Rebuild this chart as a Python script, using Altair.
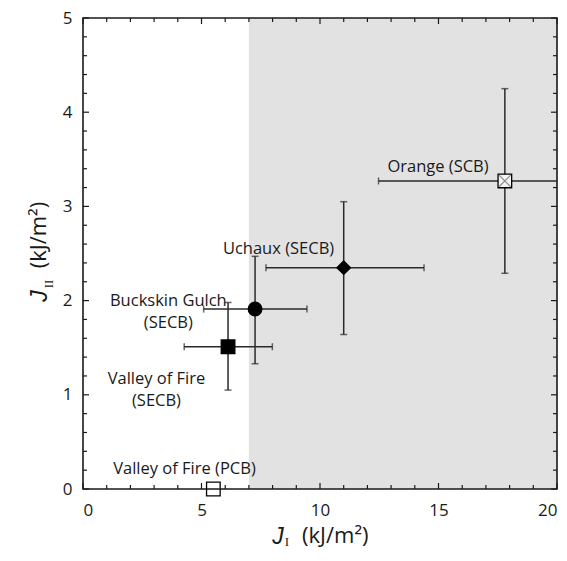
import altair as alt
import pandas as pd

# ---- data ----
sites = ["Valley of Fire (PCB)", "Valley of Fire (SECB)", "Buckskin Gulch (SECB)",
         "Uchaux (SECB)", "Orange (SCB)"]
ji = [5.5, 6.12, 7.26, 11.0, 17.8]
jii = [0.0, 1.51, 1.91, 2.35, 3.27]
ji_lo = [None, 4.27, 5.09, 7.72, 12.47]
ji_hi = [None, 7.99, 9.45, 14.39, 23.0]
jii_lo = [None, 1.05, 1.33, 1.64, 2.29]
jii_hi = [None, 1.98, 2.47, 3.05, 4.25]

label_lines = [["Valley of Fire (PCB)"], ["Valley of Fire", "(SECB)"],
               ["Buckskin Gulch", "(SECB)"], ["Uchaux (SECB)"], ["Orange (SCB)"]]
label_x = [4.28, 3.1, 3.6, 8.25, 14.98]
label_y = [0.21, 1.17, 2.0, 2.55, 3.42]

shaded_from = 7.0
shaded_to = 20.0

x_major = [0, 5, 10, 15, 20]
x_minor = [v for v in range(0, 21) if v % 5 != 0]
y_major = [0, 1, 2, 3, 4, 5]
y_minor = [round(i * 0.2, 1) for i in range(26) if i % 5 != 0]

# ---- layout ----
W, H = 474, 471
TOP = 10
FONT = "Open Sans"
JFONT = "Liberation Sans"
INK = "#1a1a1a"

xscale = alt.Scale(domain=[0, 20], nice=False, zero=False)
yscale = alt.Scale(domain=[0, 5], nice=False, zero=False)
xaxis = alt.Axis(title=None, values=x_major, ticks=False, tickSize=0, domain=False,
                 grid=False, labelPadding=13, labelFontSize=17, labelFont=FONT,
                 labelColor=INK)
yaxis = alt.Axis(title=None, values=y_major, ticks=False, tickSize=0, domain=False,
                 grid=False, labelPadding=11, labelFontSize=17, labelFont=FONT,
                 labelColor=INK)


def X(f):
    return alt.X(f, scale=xscale, axis=xaxis)


def Y(f):
    return alt.Y(f, scale=yscale, axis=yaxis)


pts = pd.DataFrame({"site": sites, "x": ji, "y": jii, "xlo": ji_lo, "xhi": ji_hi,
                    "ylo": jii_lo, "yhi": jii_hi})
errs = pts.dropna()
labels = pd.DataFrame({"x": label_x, "y": label_y, "text": label_lines})

shade = alt.Chart(pd.DataFrame({"x": [shaded_from], "x2": [shaded_to]})).mark_rect(
    color="#e2e2e2").encode(x=X("x:Q"), x2="x2:Q", y=alt.value(0), y2=alt.value(H))

EC = "#2a2a2a"
ebase = alt.Chart(errs)
hbar = ebase.mark_rule(color=EC, strokeWidth=1.5, clip=True).encode(
    x=X("xlo:Q"), x2="xhi:Q", y=Y("y:Q"))
vbar = ebase.mark_rule(color=EC, strokeWidth=1.5, clip=True).encode(
    x=X("x:Q"), y=Y("ylo:Q"), y2="yhi:Q")
cap_l = ebase.mark_tick(orient="vertical", color=EC, thickness=1.5, size=7,
                        clip=True).encode(x=X("xlo:Q"), y=Y("y:Q"))
cap_r = ebase.mark_tick(orient="vertical", color=EC, thickness=1.5, size=7,
                        clip=True).encode(x=X("xhi:Q"), y=Y("y:Q"))
cap_b = ebase.mark_tick(orient="horizontal", color=EC, thickness=1.5, size=7,
                        clip=True).encode(x=X("x:Q"), y=Y("ylo:Q"))
cap_t = ebase.mark_tick(orient="horizontal", color=EC, thickness=1.5, size=7,
                        clip=True).encode(x=X("x:Q"), y=Y("yhi:Q"))

shape_range = ["square", "square", "circle", "diamond", "square"]
fill_range = ["white", "black", "black", "black", "#f4f4f4"]
points = alt.Chart(pts).mark_point(filled=True, size=185, stroke="black",
                                   strokeWidth=1.3, opacity=1).encode(
    x=X("x:Q"), y=Y("y:Q"),
    shape=alt.Shape("site:N", scale=alt.Scale(domain=sites, range=shape_range), legend=None),
    fill=alt.Fill("site:N", scale=alt.Scale(domain=sites, range=fill_range), legend=None),
)
xmark = alt.Chart(pts).transform_filter(alt.datum.site == "Orange (SCB)").mark_point(
    shape="M-0.85,-0.85L0.85,0.85M0.85,-0.85L-0.85,0.85", size=185, filled=False,
    stroke="#8a8a8a", strokeWidth=1.1, opacity=1).encode(x=X("x:Q"), y=Y("y:Q"))

text = alt.Chart(labels).mark_text(font=FONT, fontSize=16.5, color=INK, align="center",
                                   baseline="middle", lineHeight=22).encode(
    x=X("x:Q"), y=Y("y:Q"), text="text")


def ticks_x(vals, length):
    d = alt.Chart(pd.DataFrame({"x": vals}))
    bot = d.mark_rule(color=INK, strokeWidth=1.2).encode(
        x=X("x:Q"), y=alt.value(H), y2=alt.value(H - length))
    top = d.mark_rule(color=INK, strokeWidth=1.2).encode(
        x=X("x:Q"), y=alt.value(0), y2=alt.value(length))
    return [bot, top]


def ticks_y(vals, length):
    d = alt.Chart(pd.DataFrame({"y": vals}))
    left = d.mark_rule(color=INK, strokeWidth=1.2).encode(
        y=Y("y:Q"), x=alt.value(0), x2=alt.value(length))
    right = d.mark_rule(color=INK, strokeWidth=1.2).encode(
        y=Y("y:Q"), x=alt.value(W), x2=alt.value(W - length))
    return [left, right]


tick_layers = ticks_x(x_major, 6) + ticks_x(x_minor, 4) + ticks_y(y_major, 6) + ticks_y(y_minor, 4)

frame = alt.Chart(alt.Data(values=[{}])).mark_rect(
    filled=False, stroke=INK, strokeWidth=1.6).encode(
    x=alt.value(0), x2=alt.value(W), y=alt.value(0), y2=alt.value(H))

one = alt.Data(values=[{}])
xt_j = alt.Chart(one).mark_text(text="J", font=JFONT, fontStyle="italic", fontSize=23,
                                color=INK, align="center", baseline="alphabetic").encode(
    x=alt.value(195), y=alt.value(526))
xt_i = alt.Chart(one).mark_text(text="I", font="Liberation Serif", fontSize=13,
                                color=INK, align="center", baseline="alphabetic").encode(
    x=alt.value(204), y=alt.value(528))
xt_u = alt.Chart(one).mark_text(text="(kJ/m²)", font=FONT, fontSize=22,
                                color=INK, align="left", baseline="alphabetic").encode(
    x=alt.value(219), y=alt.value(525))

yt_j = alt.Chart(one).mark_text(text="J", font=JFONT, fontStyle="italic", fontSize=23,
                                color=INK, align="center", baseline="alphabetic", angle=270).encode(
    x=alt.value(-36), y=alt.value(278))
yt_i = alt.Chart(one).mark_text(text="II", font="Liberation Serif", fontSize=13,
                                color=INK, align="center", baseline="alphabetic", angle=270).encode(
    x=alt.value(-30), y=alt.value(266))
yt_u = alt.Chart(one).mark_text(text="(kJ/m²)", font=FONT, fontSize=22,
                                color=INK, align="center", baseline="alphabetic", angle=270).encode(
    x=alt.value(-37), y=alt.value(217))

chart = alt.layer(
    shade, hbar, vbar, cap_l, cap_r, cap_b, cap_t, points, xmark, text,
    *tick_layers, frame, xt_j, xt_i, xt_u, yt_j, yt_i, yt_u
).properties(
    width=W, height=H,
    autosize=alt.AutoSizeParams(type="none"),
    padding={"left": 75, "top": TOP, "right": 2, "bottom": 60},
).configure_view(stroke=None)

chart.save("out.html", embed_options={"renderer": "svg", "actions": False})
